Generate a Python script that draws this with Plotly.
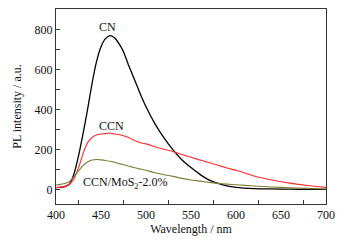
import plotly.graph_objects as go

wavelength = [400, 405, 410, 415, 420, 425, 430, 435, 440, 445, 450, 455, 460, 465, 470,
              475, 480, 485, 490, 495, 500, 510, 520, 530, 540, 550, 560, 570, 580, 590,
              600, 620, 640, 660, 680, 700]

cn = [12, 13, 17, 30, 80, 170, 280, 400, 530, 640, 715, 755, 770, 760, 730,
      690, 630, 575, 520, 465, 415, 330, 260, 200, 150, 112, 78, 50, 33, 20,
      13, 7, 5, 4, 3, 3]

ccn = [12, 14, 18, 30, 55, 110, 180, 235, 262, 274, 279, 281, 284, 279, 277,
       271, 263, 252, 242, 234, 230, 216, 203, 192, 177, 163, 150, 137, 123, 110,
       98, 70, 50, 34, 22, 13]

ccn_mos2 = [25, 28, 32, 42, 65, 95, 122, 140, 150, 152, 150, 147, 143, 138, 132,
            126, 120, 114, 108, 103, 98, 86, 76, 68, 58, 50, 44, 38, 33, 29,
            26, 20, 15, 11, 8, 5]

series_names = ["CN", "CCN", "CCN/MoS<sub>2</sub>-2.0%"]
series_colors = ["#000000", "#ff2a2a", "#7d7d35"]

x_tick_vals = [400, 450, 500, 550, 600, 650, 700]
y_tick_vals = [0, 200, 400, 600, 800]

font_family = "Liberation Serif"
fs = 12

fig = go.Figure()
for ys, name, col, w in zip([cn, ccn, ccn_mos2], series_names, series_colors, [1.3, 1.1, 1.1]):
    fig.add_trace(go.Scatter(x=wavelength, y=ys, mode="lines", name=name,
                             line=dict(color=col, width=w, shape="spline", smoothing=0.6)))

annotations = [
    dict(x=457, y=812, text="CN"),
    dict(x=462, y=318, text="CCN"),
    dict(x=477, y=36, text="CCN/MoS<sub>2</sub>-2.0%"),
]
for a in annotations:
    fig.add_annotation(x=a["x"], y=a["y"], text=a["text"], showarrow=False,
                       font=dict(family=font_family, size=fs, color="#111111"))

axis_common = dict(showline=True, linecolor="#333333", linewidth=1, mirror=True,
                   showgrid=False, zeroline=False, ticks="inside",
                   tickcolor="#333333",
                   tickfont=dict(family=font_family, size=fs, color="#111111"))

fig.update_xaxes(range=[400, 700], tickvals=x_tick_vals, ticklen=0,
                 minor=dict(ticks="inside", ticklen=4, tick0=425, dtick=50, tickcolor="#333333"),
                 title=dict(text="Wavelength / nm", font=dict(family=font_family, size=fs, color="#111111"), standoff=1),
                 **axis_common)
fig.update_yaxes(range=[-70, 903], tickvals=y_tick_vals, ticklen=4,
                 minor=dict(ticks="inside", ticklen=4, tick0=100, dtick=200, tickcolor="#333333"),
                 title=dict(text="PL intensity / a.u.", font=dict(family=font_family, size=fs, color="#111111"), standoff=10),
                 **axis_common)

# the page body adds an 8px offset; size the figure so the plot area lands where the reference has it
fig.update_layout(width=344, height=233, margin=dict(l=48, r=26, t=1, b=37, autoexpand=False),
                  plot_bgcolor="white", paper_bgcolor="white", showlegend=False,
                  font=dict(family=font_family, size=fs))

fig.write_html("out.html")
